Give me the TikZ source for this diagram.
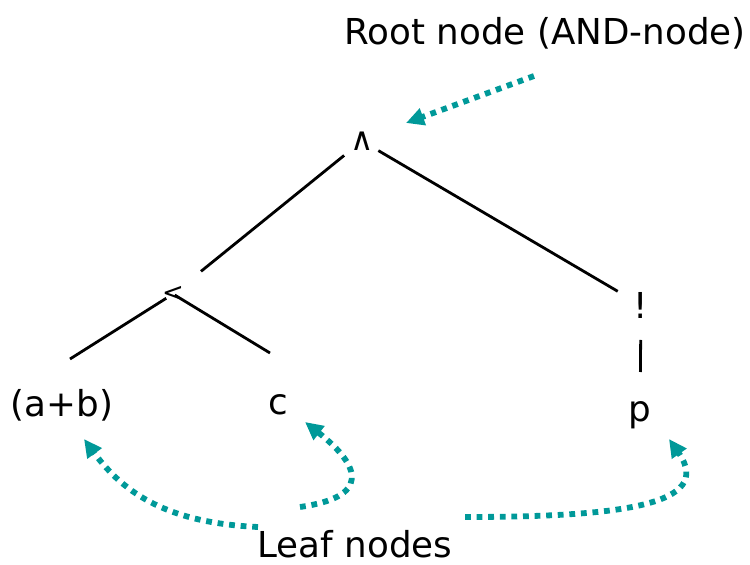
\documentclass[tikz,border=0pt]{standalone}
\usepackage{fontspec}
\setmainfont{DejaVu Sans}
\usetikzlibrary{arrows.meta}
\definecolor{ink}{HTML}{000000}
\definecolor{figteal}{HTML}{009999}
\newcommand{\figfontsize}{\fontsize{35.7}{42}\selectfont}
\tikzset{
  every picture/.style = {font=\figfontsize, line join=round},
  edge/.style          = {line width=2.8pt, ink},
  pointer/.style       = {line width=5.8pt, figteal, dash pattern=on 5.8pt off 5.8pt,
                          -{Triangle[length=18pt, width=17pt]}},
  leaf/.style          = {inner sep=0pt, text=ink},
}
\begin{document}
\begin{tikzpicture}[x=1pt, y=1pt]
  \useasboundingbox (0,0) rectangle (750,565);

  % ---------- the tree ------------------------------------------------------
  \node[leaf, font=\fontsize{32}{38}\selectfont] (root) at (362,424) {∧};
  \node[leaf, font=\fontsize{26}{30}\selectfont] (lft) at (173,271) {<};
  \node[leaf] (neg)  at (641,260) {!};
  \node[leaf] (ab)   at (62,160)  {(a+b)};
  \node[leaf] (c)    at (278,160) {c};
  \node[leaf] (p)    at (640,150) {p};

  \draw[edge, shorten <=23pt, shorten >=36pt] (root.center) -- (lft.center);
  \draw[edge, shorten <=19pt, shorten >=27pt] (root.center) -- (neg.center);
  \draw[edge, shorten <=8pt]  (lft.center) -- ([shift={(8,46)}]ab.center);
  \draw[edge, shorten <=2pt]  (lft.center) -- ([shift={(-8,52)}]c.center);
  \draw[edge, shorten <=35pt, shorten >=43pt] (neg.center) -- (p.center);

  % ---------- the captions and their pointers --------------------------------
  \node[leaf] (rootlbl) at (545,532) {Root node (AND-node)};
  \node[leaf] (leaflbl) at (355,21)  {Leaf nodes};

  \coordinate (rootarr) at (534,489);
  \coordinate (abarr)   at ([shift={(-97,17)}]leaflbl.center);
  \coordinate (carr)    at ([shift={(-55,37)}]leaflbl.center);
  \coordinate (parr)    at ([shift={(110,27)}]leaflbl.center);

  \draw[pointer] (rootarr) -- ([shift={(44,18)}]root.center);
  \draw[pointer] (abarr) .. controls (170,42) and (125,70) .. ([shift={(22,-34)}]ab.center);
  \draw[pointer] (carr) .. controls (370,68) and (362,98) .. ([shift={(27,-17)}]c.center);
  \draw[pointer] (parr) .. controls (620,48) and (715,60) .. ([shift={(29,-24)}]p.center);
\end{tikzpicture}
\end{document}
